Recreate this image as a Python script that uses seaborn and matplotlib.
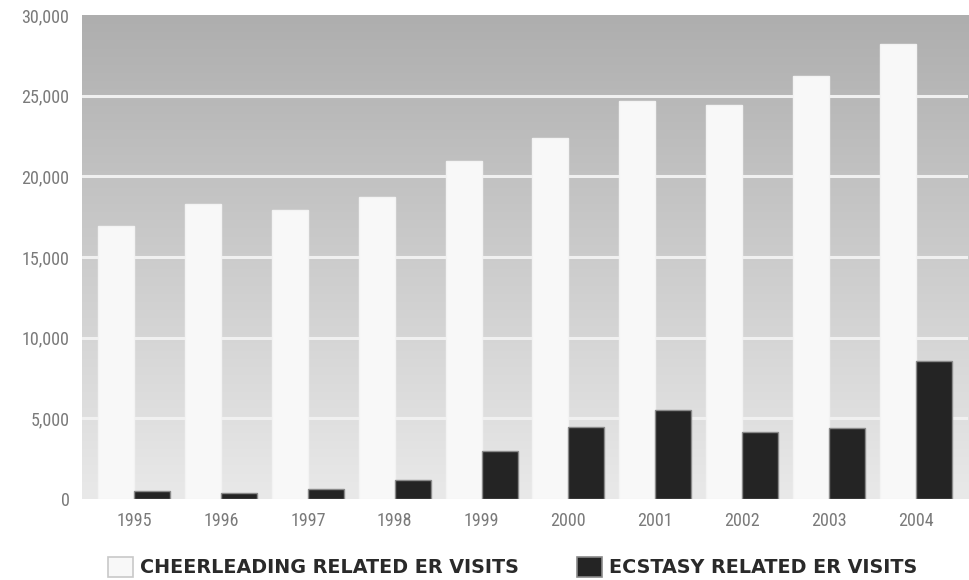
import numpy as np
import pandas as pd
import matplotlib
matplotlib.use("Agg")
import matplotlib.pyplot as plt
from matplotlib.patches import Patch
from matplotlib.colors import LinearSegmentedColormap
from matplotlib.ticker import FuncFormatter
from matplotlib import font_manager
import seaborn as sns

# ER visits per year
years = ["1995", "1996", "1997", "1998", "1999", "2000", "2001", "2002", "2003", "2004"]
cheerleading = [16900, 18300, 17900, 18700, 20950, 22400, 24650, 24400, 26200, 28200]
ecstasy = [500, 380, 650, 1150, 2950, 4450, 5500, 4150, 4400, 8550]
series_names = ["CHEERLEADING RELATED ER VISITS", "ECSTASY RELATED ER VISITS"]
yticks = [0, 5000, 10000, 15000, 20000, 25000, 30000]

df = pd.DataFrame({
    "year": years * 2,
    "visits": cheerleading + ecstasy,
    "series": [series_names[0]] * len(years) + [series_names[1]] * len(years),
})

bar_colors = {series_names[0]: "#f8f8f8", series_names[1]: "#242424"}
edge_colors = {series_names[0]: "#f3f3f3", series_names[1]: "#8a8a8a"}

sns.set_theme(style="white")
plt.rcParams["font.family"] = ["DejaVu Sans"]

installed = {f.name for f in font_manager.fontManager.ttflist}
tick_family = "DejaVu Sans"
for cand in ["Liberation Sans Narrow", "DejaVu Sans Condensed", "Roboto Condensed"]:
    if cand in installed:
        tick_family = cand
        break

fig = plt.figure(figsize=(9.69, 5.8), dpi=100)
ax = fig.add_axes([82 / 969, 1 - 499 / 580, (968 - 82) / 969, (499 - 15) / 580])

sns.barplot(data=df, x="year", y="visits", hue="series", order=years,
            hue_order=series_names, palette=bar_colors, width=0.83,
            saturation=1, legend=False, ax=ax, zorder=3)

for patch, name in zip(ax.patches, [series_names[0]] * len(years) + [series_names[1]] * len(years)):
    patch.set_edgecolor(edge_colors[name])
    patch.set_linewidth(1.0)

ax.set_xlim(-0.6, len(years) - 0.4)
ax.set_ylim(0, 30000)

# vertical gray gradient behind the bars
grad = LinearSegmentedColormap.from_list("bg", ["#e9e9e9", "#aeaeae"])
g = np.linspace(0, 1, 256).reshape(-1, 1)
ax.imshow(g, extent=[-0.6, len(years) - 0.4, 0, 30000], origin="lower",
          cmap=grad, aspect="auto", zorder=0, interpolation="bicubic")

for y in yticks[1:-1]:
    ax.axhline(y, color="#f0f0f0", linewidth=2.2, zorder=1)

for s in ax.spines.values():
    s.set_visible(False)

ax.set_yticks(yticks)
ax.yaxis.set_major_formatter(FuncFormatter(lambda v, p: f"{int(v):,}"))
ax.tick_params(axis="both", length=0, colors="#7a7a7a")
ax.tick_params(axis="y", pad=9)
ax.tick_params(axis="x", pad=9)
for lab in ax.get_xticklabels() + ax.get_yticklabels():
    lab.set_family(tick_family)
    lab.set_fontsize(13 if tick_family != "DejaVu Sans" else 11)
ax.set_xlabel("")
ax.set_ylabel("")
ax.grid(False)

handles = [
    Patch(facecolor="#f8f8f8", edgecolor="#c8c8c8", linewidth=1.2, label=series_names[0]),
    Patch(facecolor="#242424", edgecolor="#8a8a8a", linewidth=1.2, label=series_names[1]),
]
fig.legend(handles=handles, loc="center", bbox_to_anchor=(0.529, 1 - 567 / 580),
           ncol=2, frameon=False, handlelength=1.3, handleheight=1.3,
           handletextpad=0.4, columnspacing=3.0,
           prop={"weight": "bold", "size": 13.8}, labelcolor="#2a2a2a")

fig.savefig("out.png", dpi=100, facecolor="white")
